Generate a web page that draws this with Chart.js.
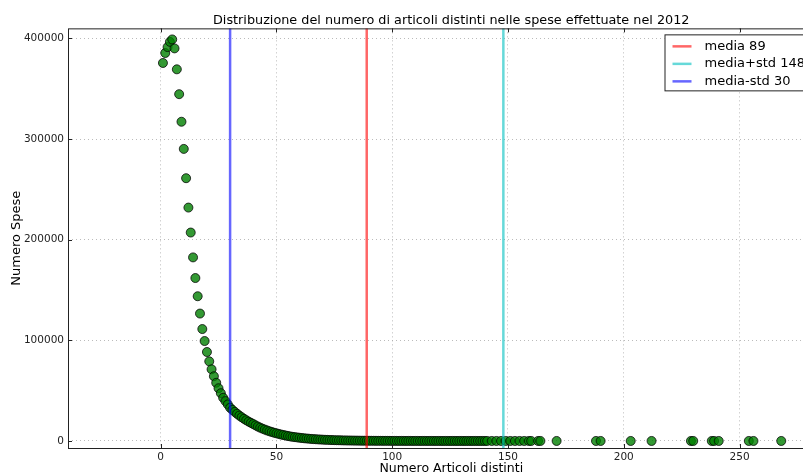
<!DOCTYPE html>
<html>
<head>
<meta charset="utf-8">
<script src="https://cdn.jsdelivr.net/npm/chart.js@4"></script>
<style>
  html, body { margin: 0; padding: 0; background: #fff; overflow: hidden; }
  #wrap { width: 840px; height: 474px; }
</style>
</head>
<body>
<div id="wrap"><canvas id="speseChart" width="840" height="474"></canvas></div>
<script>
// numero di articoli distinti (tratto continuo)
const numArticoli = [
  1, 2, 3, 4, 5, 6, 7, 8, 9, 10, 11, 12, 13, 14, 15, 16, 17, 18, 19, 20,
  21, 22, 23, 24, 25, 26, 27, 28, 29, 30, 31, 32, 33, 34, 35, 36, 37, 38, 39, 40,
  41, 42, 43, 44, 45, 46, 47, 48, 49, 50, 51, 52, 53, 54, 55, 56, 57, 58, 59, 60,
  61, 62, 63, 64, 65, 66, 67, 68, 69, 70, 71, 72, 73, 74, 75, 76, 77, 78, 79, 80,
  81, 82, 83, 84, 85, 86, 87, 88, 89, 90, 91, 92, 93, 94, 95, 96, 97, 98, 99, 100,
  101, 102, 103, 104, 105, 106, 107, 108, 109, 110, 111, 112, 113, 114, 115, 116, 117, 118, 119, 120,
  121, 122, 123, 124, 125, 126, 127, 128, 129, 130, 131, 132, 133, 134, 135, 136, 137, 138, 139, 140, 141
];
const numSpese = [
  375600, 385500, 391400, 396600, 399000, 390100, 369300, 344600, 317200, 290200,
  261100, 231900, 207100, 182400, 161900, 143800, 126600, 111200, 99300, 88400,
  79100, 71200, 64300, 57800, 52400, 47500, 42900, 39600, 36300, 33000,
  30900, 28900, 27000, 25200, 23600, 22000, 20600, 19200, 18000, 16800,
  15500, 14300, 13200, 12200, 11300, 10400, 9600, 8900, 8200, 7600,
  7000, 6400, 5900, 5400, 4900, 4500, 4100, 3800, 3500, 3200,
  2900, 2650, 2450, 2250, 2050, 1850, 1700, 1550, 1420, 1300,
  1180, 1080, 980, 900, 820, 740, 680, 620, 560, 510,
  465, 425, 385, 350, 320, 290, 265, 240, 220, 200,
  182, 166, 151, 137, 125, 114, 104, 95, 86, 78,
  71, 65, 59, 54, 49, 45, 41, 37, 34, 31,
  28, 26, 24, 22, 20, 18, 17, 15, 14, 13,
  12, 11, 10, 9, 8, 8, 7, 7, 6, 6,
  5, 5, 4, 4, 4, 3, 3, 3, 2, 2, 2
];
// coda sparsa
const articoliCoda = [143, 145, 147, 149, 151, 153, 155, 157, 159, 160, 163, 164, 171,
  188, 190, 203, 212, 229, 230, 238, 239, 241, 254, 256, 268];
const speseCoda = [2, 2, 1, 2, 1, 1, 2, 1, 1, 1, 2, 1, 1,
  1, 1, 1, 1, 1, 1, 1, 1, 1, 1, 1, 1];

const lineeValori = [89, 148, 30];
const lineeEtichette = ['media 89', 'media+std 148', 'media-std 30'];
const lineeColori = ['rgba(255,0,0,0.6)', 'rgba(0,191,191,0.6)', 'rgba(0,0,255,0.6)'];

const xTicks = [0, 50, 100, 150, 200, 250];
const yTicks = [0, 100000, 200000, 300000, 400000];
const xMin = -40, xMax = 291;
const yMin = -7000, yMax = 410000;

const FONT = 'DejaVu Sans';

const punti = numArticoli.map((x, i) => ({ x: x, y: numSpese[i] }))
  .concat(articoliCoda.map((x, i) => ({ x: x, y: speseCoda[i] })));

const lineDatasets = lineeValori.map((v, i) => ({
  type: 'line',
  label: lineeEtichette[i],
  data: [{ x: v, y: yMin }, { x: v, y: yMax }],
  borderColor: lineeColori[i],
  borderWidth: 2.5,
  pointRadius: 0,
  fill: false,
  order: 0,
}));

// cornice, tacche interne e legenda come matplotlib
const framePlugin = {
  id: 'frame',
  afterDraw(chart) {
    const { ctx, chartArea: a, scales } = chart;
    ctx.save();
    ctx.strokeStyle = '#222';
    ctx.lineWidth = 1;
    ctx.strokeRect(a.left + 0.5, a.top + 0.5, a.right - a.left, a.bottom - a.top);
    ctx.beginPath();
    xTicks.forEach(t => {
      const px = Math.round(scales.x.getPixelForValue(t)) + 0.5;
      ctx.moveTo(px, a.bottom); ctx.lineTo(px, a.bottom - 4);
      ctx.moveTo(px, a.top); ctx.lineTo(px, a.top + 4);
    });
    yTicks.forEach(t => {
      const py = Math.round(scales.y.getPixelForValue(t)) + 0.5;
      ctx.moveTo(a.left, py); ctx.lineTo(a.left + 4, py);
      ctx.moveTo(a.right, py); ctx.lineTo(a.right - 4, py);
    });
    ctx.stroke();

    // legenda
    const lx = a.right - 170, ly = a.top + 6;
    ctx.fillStyle = '#fff';
    ctx.fillRect(lx, ly, 160, 56);
    ctx.strokeStyle = '#222';
    ctx.strokeRect(lx + 0.5, ly + 0.5, 160, 56);
    ctx.font = '13px "' + FONT + '"';
    ctx.textBaseline = 'middle';
    chart.data.datasets.filter(d => d.type === 'line').forEach((d, i) => {
      const y = ly + 12 + i * 17.5;
      ctx.strokeStyle = d.borderColor;
      ctx.lineWidth = 2.5;
      ctx.beginPath();
      ctx.moveTo(lx + 8, y); ctx.lineTo(lx + 27, y);
      ctx.stroke();
      ctx.fillStyle = '#000';
      ctx.fillText(d.label, lx + 40, y);
    });
    ctx.restore();
  }
};

const ctx = document.getElementById('speseChart').getContext('2d');
new Chart(ctx, {
  type: 'scatter',
  data: {
    datasets: [
      ...lineDatasets,
      {
        type: 'scatter',
        label: 'spese',
        data: punti,
        backgroundColor: 'rgba(0,128,0,0.8)',
        borderColor: 'rgba(0,0,0,0.75)',
        borderWidth: 1,
        pointRadius: 4.5,
        order: 1,
      },
    ],
  },
  options: {
    responsive: false,
    animation: false,
    layout: { padding: { right: 4 } },
    plugins: {
      legend: { display: false },
      tooltip: { enabled: false },
      title: {
        display: true,
        fullSize: false,
        text: 'Distribuzione del numero di articoli distinti nelle spese effettuate nel 2012',
        color: '#000',
        font: { family: FONT, size: 12.8, weight: 'normal' },
        padding: { top: 13, bottom: 0 },
      },
    },
    scales: {
      x: {
        type: 'linear',
        min: xMin,
        max: xMax,
        afterFit: (s) => { s.height = 26; },
        afterBuildTicks: (s) => { s.ticks = xTicks.map(v => ({ value: v })); },
        ticks: { color: '#222', font: { family: FONT, size: 10.5 }, padding: 3,
                 callback: (v) => String(v) },
        grid: { color: '#aaa', lineWidth: 0.8, drawTicks: false },
        border: { display: false, dash: [1, 3] },
        title: {
          display: true,
          text: 'Numero Articoli distinti',
          color: '#000',
          font: { family: FONT, size: 12.5 },
          padding: { top: 0, bottom: -2 },
        },
      },
      y: {
        type: 'linear',
        min: yMin,
        max: yMax,
        afterFit: (s) => { s.width = 68; },
        afterBuildTicks: (s) => { s.ticks = yTicks.map(v => ({ value: v })); },
        ticks: { color: '#222', font: { family: FONT, size: 10.5 }, padding: 4,
                 callback: (v) => String(v) },
        grid: { color: '#aaa', lineWidth: 0.8, drawTicks: false },
        border: { display: false, dash: [1, 3] },
        title: {
          display: true,
          text: 'Numero Spese',
          color: '#000',
          font: { family: FONT, size: 13 },
          padding: { top: 9 },
        },
      },
    },
  },
  plugins: [framePlugin],
});
</script>
</body>
</html>
